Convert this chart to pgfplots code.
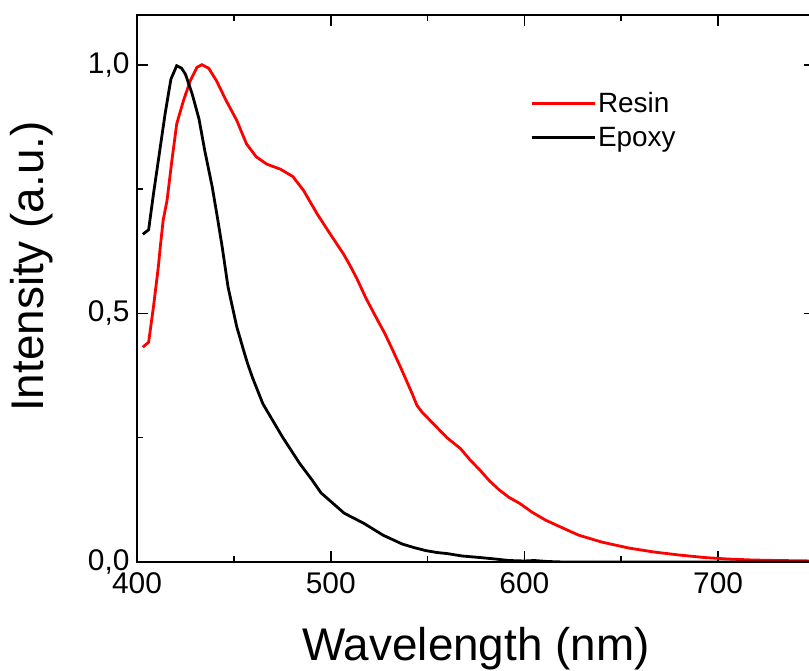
\documentclass[border=0pt]{standalone}
\usepackage{pgfplots}
\pgfplotsset{compat=1.18}
\usepackage{fontspec}
\setmainfont{Liberation Sans}
\begin{document}
\begin{tikzpicture}
\path[use as bounding box] (-137bp,-109bp) rectangle (672bp,562bp);
\begin{axis}[
  scale only axis, width=678bp, height=547bp,
  xmin=400, xmax=750, ymin=0, ymax=1.1,
  xtick={400,500,600,700}, minor xtick={450,550,650,750},
  ytick={0,0.5,1}, minor ytick={0.25,0.75},
  tick align=inside, major tick length=11bp, minor tick length=6bp,
  axis line style={line width=1.6bp},
  every tick/.style={black, line width=1.6bp},
  /pgf/number format/assume math mode=true,
  tick label style={font=\fontsize{30}{36}\selectfont},
  yticklabel style={xshift=-4bp, /pgf/number format/.cd, fixed, fixed zerofill, precision=1, use comma},
  xticklabel style={yshift=-7bp, /pgf/number format/1000 sep={}},
  label style={font=\fontsize{46}{55}\selectfont},
  xlabel={Wavelength (nm)},
  ylabel={Intensity (a.u.)},
  xlabel style={at={(axis description cs:0.5,0)}, anchor=base, yshift=-98bp},
  ylabel style={at={(axis description cs:-0.155,0.540)}, anchor=center},
  legend style={at={(rel axis cs:0.58,0.862)}, anchor=north west, draw=none, fill=none,
    font=\fontsize{28}{34}\selectfont, inner sep=0pt, row sep=9bp,
    /tikz/every even column/.append style={column sep=8bp}},
  legend cell align=left,
  legend image code/.code={\draw[#1, line width=2.6bp] (0bp,0bp) -- (63bp,0bp);},
]
\addplot[red, line width=2.8bp] coordinates {
(403,0.432) (406,0.442) (408.5,0.513) (411,0.593) (412,0.633) (413.5,0.687)
(415.5,0.727) (418,0.807) (420.5,0.881) (424,0.928) (427.5,0.968) (431,0.995)
(433.5,1.0) (437,0.993) (441,0.968) (446,0.928) (451.5,0.888) (456.5,0.841)
(461.5,0.815) (467,0.800) (474,0.790) (480.5,0.775) (486,0.747) (493,0.700)
(500,0.658) (506.5,0.620) (510,0.596) (513.5,0.570) (518,0.532) (523,0.495)
(528,0.459) (532,0.426) (536,0.392) (542,0.339) (544.5,0.315) (547,0.302)
(552,0.282) (558,0.258) (560,0.250) (567,0.228) (572,0.205) (577,0.185)
(582,0.163) (587,0.145) (592,0.130) (597.5,0.118) (604,0.100) (611,0.084)
(620,0.068) (628,0.054) (640,0.040) (654,0.028) (667,0.020) (680,0.014)
(693,0.009) (705,0.006) (718,0.004) (731,0.003) (750,0.002)
};
\addlegendentry{Resin}
\addplot[black, line width=2.8bp] coordinates {
(403,0.659) (406,0.668) (408.5,0.740) (411,0.807) (414.5,0.901) (417.5,0.971)
(420.5,0.998) (423,0.993) (425,0.981) (428.5,0.941) (432,0.891) (435,0.827)
(438.8,0.755) (441.5,0.693) (444,0.633) (447,0.553) (451.5,0.473) (455,0.426)
(457,0.400) (459.5,0.372) (465,0.318) (470,0.285) (475,0.252) (480,0.222)
(484,0.198) (490,0.167) (495,0.139) (500,0.122) (507,0.098) (512,0.088)
(517,0.078) (522,0.066) (527,0.054) (532,0.045) (537,0.036) (543,0.029)
(549,0.023) (555,0.019) (560,0.017) (568,0.012) (577,0.009) (585,0.006)
(592,0.003) (600,0.002) (605,0.003) (612,0.001) (620,0.0) (700,0.0) (750,0.0)
};
\addlegendentry{Epoxy}
\end{axis}
\end{tikzpicture}
\end{document}
